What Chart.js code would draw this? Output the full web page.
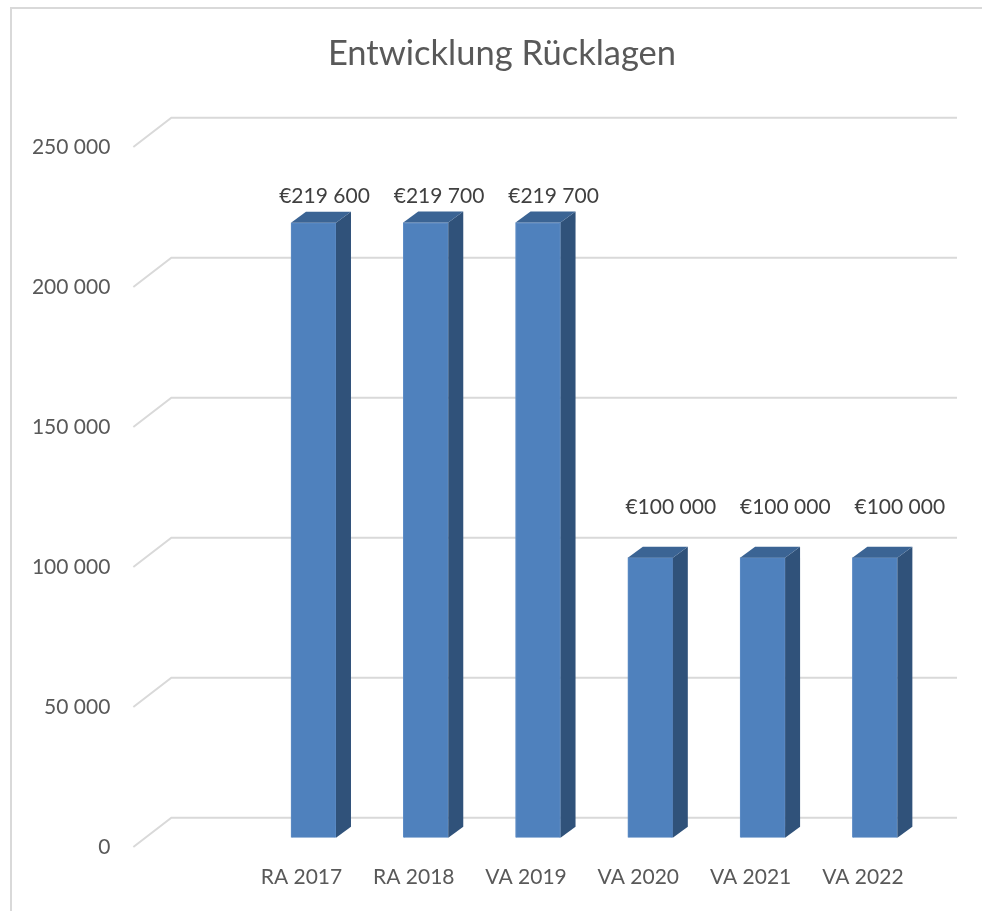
<!DOCTYPE html>
<html>
<head>
<meta charset="utf-8">
<script src="https://cdn.jsdelivr.net/npm/chart.js@4/dist/chart.umd.min.js"></script>
<style>
  html, body { margin: 0; padding: 0; background: #ffffff; overflow: hidden; }
  #wrap { position: relative; width: 982px; height: 911px; }
  #frame { position: absolute; left: 10px; top: 7px; width: 990px; height: 920px; border: 2px solid #d9d9d9; box-sizing: border-box; pointer-events: none; }
  canvas { position: absolute; left: 0; top: 0; }
</style>
</head>
<body>
<div id="wrap">
  <canvas id="c" width="982" height="911"></canvas>
  <div id="frame"></div>
</div>
<script>
// ---- data ----
const categories = ["RA 2017", "RA 2018", "VA 2019", "VA 2020", "VA 2021", "VA 2022"];
const reserves = [219600, 219700, 219700, 100000, 100000, 100000];
const valueLabels = ["€219 600", "€219 700", "€219 700", "€100 000", "€100 000", "€100 000"];
const yTickValues = [0, 50000, 100000, 150000, 200000, 250000];
const yTickLabels = ["0", "50 000", "100 000", "150 000", "200 000", "250 000"];
const chartTitle = "Entwicklung Rücklagen";

const FONT = "Lato, 'Open Sans', sans-serif";
const DEPTH_X = 15, DEPTH_Y = 11;

const titlePlugin = {
  id: 'centeredTitle',
  afterDraw(chart) {
    const ctx = chart.ctx;
    ctx.save();
    ctx.fillStyle = '#595959';
    ctx.font = "34.5px " + FONT;
    ctx.textAlign = 'center';
    ctx.textBaseline = 'middle';
    ctx.fillText(chartTitle, 502, 54);
    ctx.restore();
  }
};

const gridPlugin = {
  id: 'grid3d',
  beforeDatasetsDraw(chart) {
    const ctx = chart.ctx, ys = chart.scales.y, area = chart.chartArea;
    ctx.save();
    ctx.strokeStyle = '#d9d9d9';
    ctx.lineWidth = 2;
    yTickValues.forEach(v => {
      const y = ys.getPixelForValue(v);
      const backY = y - 20, frontY = y + 9.3;
      ctx.beginPath();
      ctx.moveTo(area.left - 124, frontY);
      ctx.lineTo(area.left - 86, backY);
      ctx.lineTo(area.right + 26, backY);
      ctx.stroke();
    });
    ctx.restore();
  }
};

const bar3dPlugin = {
  id: 'bar3d',
  afterDatasetsDraw(chart) {
    const ctx = chart.ctx;
    const meta = chart.getDatasetMeta(0);
    ctx.save();
    meta.data.forEach((bar, i) => {
      const p = bar.getProps(['x', 'y', 'base', 'width'], true);
      const l = p.x - p.width / 2, r = p.x + p.width / 2, t = p.y, b = p.base;
      // side face
      ctx.fillStyle = '#30527a';
      ctx.beginPath();
      ctx.moveTo(r, t);
      ctx.lineTo(r + DEPTH_X, t - DEPTH_Y);
      ctx.lineTo(r + DEPTH_X, b - DEPTH_Y);
      ctx.lineTo(r, b);
      ctx.closePath();
      ctx.fill();
      // top face
      ctx.fillStyle = '#3b6494';
      ctx.beginPath();
      ctx.moveTo(l, t);
      ctx.lineTo(l + DEPTH_X, t - DEPTH_Y);
      ctx.lineTo(r + DEPTH_X, t - DEPTH_Y);
      ctx.lineTo(r, t);
      ctx.closePath();
      ctx.fill();
      // value label
      const dx = 11 + 0.02 * (p.x - 313) + 0.008 * (t - 222);
      const gap = 4 + 0.0714 * t;
      ctx.fillStyle = '#404040';
      ctx.font = "21px " + FONT;
      ctx.textAlign = 'center';
      ctx.textBaseline = 'alphabetic';
      ctx.fillText(valueLabels[i], p.x + dx, t - gap);
    });
    ctx.restore();
  }
};

new Chart(document.getElementById('c'), {
  type: 'bar',
  data: {
    labels: categories,
    datasets: [{
      data: reserves,
      backgroundColor: '#4f81bd',
      borderColor: '#5f8dc6',
      borderWidth: 1,
      barThickness: 45
    }]
  },
  options: {
    responsive: false,
    animation: false,
    layout: { padding: { left: 0, right: 51, top: 137.7, bottom: 0 } },
    plugins: {
      legend: { display: false },
      tooltip: { enabled: false },
      title: { display: false }
    },
    scales: {
      x: {
        grid: { display: false, drawTicks: false },
        border: { display: false },
        ticks: { color: '#595959', font: { family: FONT, size: 21 }, padding: 27, labelOffset: -12 },
        afterFit(scale) { scale.height = 911 - 837.7; scale.paddingLeft = 0; scale.paddingRight = 0; }
      },
      y: {
        min: 0, max: 250000,
        grid: { display: false, drawTicks: false },
        border: { display: false },
        afterBuildTicks(scale) { scale.ticks = yTickValues.map(v => ({ value: v })); },
        ticks: {
          color: '#595959',
          font: { family: FONT, size: 21 },
          padding: 147,
          labelOffset: 9.5,
          callback: (v) => yTickLabels[yTickValues.indexOf(v)]
        },
        afterFit(scale) { scale.width = 257.35; scale.paddingTop = 0; scale.paddingBottom = 0; }
      }
    }
  },
  plugins: [gridPlugin, bar3dPlugin, titlePlugin]
});
</script>
</body>
</html>
